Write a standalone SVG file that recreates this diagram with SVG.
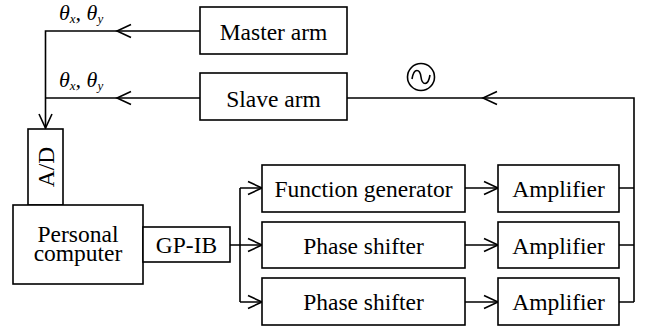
<svg xmlns="http://www.w3.org/2000/svg" xmlns:xlink="http://www.w3.org/1999/xlink" width="645" height="329" viewBox="0 0 645 329">
<style>
.box{fill:#fff;stroke:#000;stroke-width:1.6}
.ln{fill:none;stroke:#000;stroke-width:1.6}
.t{font-family:"Liberation Serif","Times New Roman",serif;font-size:23.5px;fill:#000;text-anchor:middle}
.th{font-family:"Liberation Serif","Times New Roman",serif;font-style:italic;font-size:22px;fill:#000}
.sub{font-size:13px}
</style>
<defs>
<path id="chev" d="M14,-6.5 L0,0 L14,6.5" fill="none" stroke="#000" stroke-width="1.6"/>
</defs>
<rect width="645" height="329" fill="#fff"/>
<g id="connectors">
<path class="ln" d="M200,31 H45.5 V128"/>
<path class="ln" d="M200,98 H45.5"/>
<path class="ln" d="M347,98 H634 V302"/>
<path class="ln" d="M619,188 H634 M619,245 H634 M619,302 H634"/>
<path class="ln" d="M230,245 H240 M240,188 V302 M240,188 H262 M240,245 H262 M240,302 H262"/>
<path class="ln" d="M465,188 H498 M465,245 H498 M465,302 H498"/>
<use xlink:href="#chev" transform="translate(117,31)"/>
<use xlink:href="#chev" transform="translate(117,98)"/>
<use xlink:href="#chev" transform="translate(483,98)"/>
<use xlink:href="#chev" transform="translate(45.5,128) rotate(-90)"/>
<use xlink:href="#chev" transform="translate(262,188) rotate(180)"/>
<use xlink:href="#chev" transform="translate(262,245) rotate(180)"/>
<use xlink:href="#chev" transform="translate(262,302) rotate(180)"/>
<use xlink:href="#chev" transform="translate(498,188) rotate(180)"/>
<use xlink:href="#chev" transform="translate(498,245) rotate(180)"/>
<use xlink:href="#chev" transform="translate(498,302) rotate(180)"/>
</g>
<g id="label-theta-master"><text class="th" x="59" y="20">θ<tspan class="sub" dy="3">x</tspan><tspan dy="-3">, θ</tspan><tspan class="sub" dy="3">y</tspan></text></g>
<g id="label-theta-slave"><text class="th" x="59" y="87">θ<tspan class="sub" dy="3">x</tspan><tspan dy="-3">, θ</tspan><tspan class="sub" dy="3">y</tspan></text></g>
<g id="source">
<circle cx="421" cy="77" r="13.5" fill="none" stroke="#000" stroke-width="1.6"/>
<path d="M412,79 C414,67 420,69 421,77 C422,85 428,87 430,75" fill="none" stroke="#000" stroke-width="1.6"/>
</g>
<g id="master-arm"><rect class="box" x="200" y="7" width="147" height="47"/><text class="t" x="273.5" y="40">Master arm</text></g>
<g id="slave-arm"><rect class="box" x="200" y="73" width="147" height="47"/><text class="t" x="273.5" y="107">Slave arm</text></g>
<g id="ad"><rect class="box" x="28" y="129" width="35" height="76"/><text class="t" transform="translate(53.5,167) rotate(-90)" x="0" y="0">A/D</text></g>
<g id="pc"><rect class="box" x="13" y="205" width="130" height="79"/><text class="t" x="78" y="242">Personal</text><text class="t" x="78" y="261">computer</text></g>
<g id="gpib"><rect class="box" x="143" y="227" width="87" height="35"/><text class="t" x="186.5" y="253">GP-IB</text></g>
<g id="function-generator"><rect class="box" x="262" y="165" width="203" height="47"/><text class="t" x="363.5" y="197">Function generator</text></g>
<g id="phase-shifter-1"><rect class="box" x="262" y="222" width="203" height="46"/><text class="t" x="363.5" y="254">Phase shifter</text></g>
<g id="phase-shifter-2"><rect class="box" x="262" y="278" width="203" height="47"/><text class="t" x="363.5" y="310">Phase shifter</text></g>
<g id="amplifier-1"><rect class="box" x="498" y="165" width="121" height="47"/><text class="t" x="558.5" y="197">Amplifier</text></g>
<g id="amplifier-2"><rect class="box" x="498" y="222" width="121" height="46"/><text class="t" x="558.5" y="254">Amplifier</text></g>
<g id="amplifier-3"><rect class="box" x="498" y="278" width="121" height="47"/><text class="t" x="558.5" y="310">Amplifier</text></g>
</svg>
